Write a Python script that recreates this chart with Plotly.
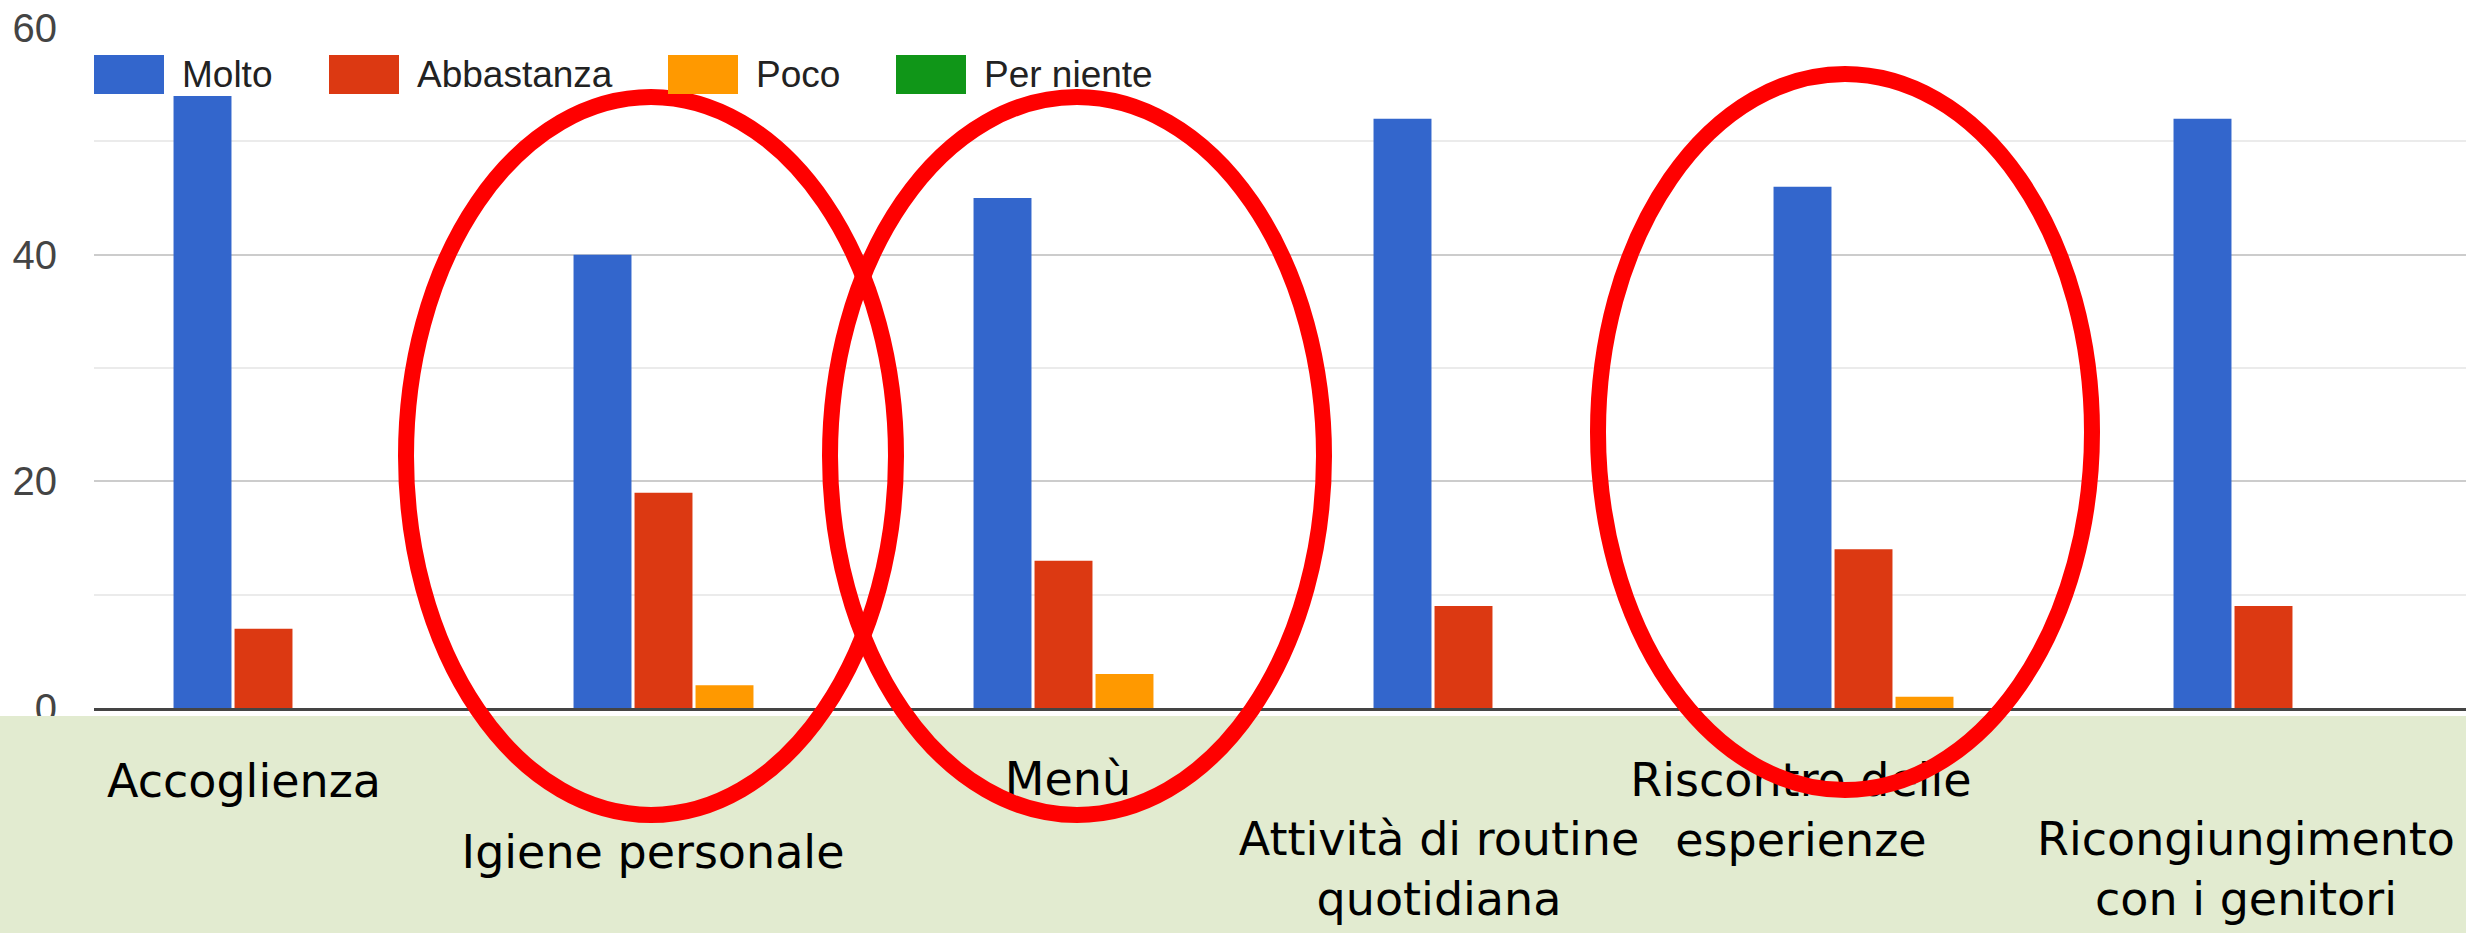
import plotly.graph_objects as go

# ---- data ----
categories = [
    "Accoglienza",
    "Igiene personale",
    "Menù",
    "Attività di routine quotidiana",
    "Riscontro delle esperienze",
    "Ricongiungimento con i genitori",
]
category_labels = [
    "Accoglienza",
    "Igiene personale",
    "Menù",
    "Attività di routine<br>quotidiana",
    "Riscontro delle<br>esperienze",
    "Ricongiungimento<br>con i genitori",
]
series_names = ["Molto", "Abbastanza", "Poco", "Per niente"]
molto = [54, 40, 45, 52, 46, 52]
abbastanza = [7, 19, 13, 9, 14, 9]
poco = [0, 2, 3, 0, 1, 0]
per_niente = [0, 0, 0, 0, 0, 0]
y_ticks = [0, 20, 40, 60]

# ---- style ----
series_colors = ["#3366CC", "#DC3912", "#FF9900", "#109618"]
W, H = 2466, 933
LEFT, TOP, AXIS_Y = 94, 28, 708


def px(x):
    """pixel x -> paper x"""
    return (x - LEFT) / (W - LEFT)


def py(y):
    """pixel y -> paper y"""
    return (AXIS_Y - y) / (AXIS_Y - TOP)


# label centres (pixels) for the captions on the green band
label_centres = [(244, 778), (653, 849), (1068, 776), (1439, 866), (1801, 807), (2246, 866)]
# legend swatch left edges (pixels)
legend_left = [94, 329, 668, 896]
# highlight ellipses (pixel boxes)
ellipses = [(406, 97, 896, 815), (830, 97, 1324, 815), (1598, 74, 2092, 790)]

fig = go.Figure()
for name, vals, color in zip(series_names, [molto, abbastanza, poco, per_niente], series_colors):
    fig.add_bar(
        x=categories,
        y=vals,
        name=name,
        marker=dict(color=color, line=dict(width=0)),
        showlegend=False,
    )

shapes = []
annotations = []

# green caption band
shapes.append(dict(
    type="rect", xref="paper", yref="paper", layer="above",
    x0=px(0), x1=px(W), y0=py(H), y1=py(716),
    line=dict(width=0), fillcolor="#E2EBD0",
))

# captions
for text, (cx, cy) in zip(category_labels, label_centres):
    shapes.append(dict(
        type="rect", xref="paper", yref="paper", layer="above",
        x0=px(cx - 240), x1=px(cx + 240), y0=py(cy + 60), y1=py(cy - 60),
        line=dict(width=0), fillcolor="rgba(0,0,0,0)",
        label=dict(text=text, textposition="middle center",
                   font=dict(family="DejaVu Sans", size=46, color="#000000")),
    ))

# red highlight ellipses
for x0, y0, x1, y1 in ellipses:
    shapes.append(dict(
        type="circle", xref="paper", yref="paper", layer="above",
        x0=px(x0), x1=px(x1), y0=py(y1), y1=py(y0),
        line=dict(color="#FF0000", width=16), fillcolor="rgba(0,0,0,0)",
    ))

# legend
for name, color, lx in zip(series_names, series_colors, legend_left):
    shapes.append(dict(
        type="rect", xref="paper", yref="paper", layer="above",
        x0=px(lx), x1=px(lx + 70), y0=py(94), y1=py(55),
        line=dict(width=0), fillcolor=color,
    ))
    annotations.append(dict(
        xref="paper", yref="paper", x=px(lx + 86), y=py(75),
        xanchor="left", yanchor="middle", showarrow=False, text=name,
        font=dict(family="Arial, Liberation Sans", size=37, color="#222222"),
    ))

fig.update_layout(
    width=W, height=H,
    margin=dict(l=LEFT, r=0, t=TOP, b=H - AXIS_Y, pad=0),
    paper_bgcolor="#FFFFFF", plot_bgcolor="#FFFFFF",
    barmode="group", bargap=0.39, bargroupgap=0.05,
    showlegend=False,
    shapes=shapes, annotations=annotations,
    xaxis=dict(
        type="category", range=[-0.5, 5.43], showticklabels=False,
        showgrid=False, zeroline=False, showline=True,
        linecolor="#444444", linewidth=3, ticks="",
    ),
    yaxis=dict(
        range=[0, 60], tickvals=y_ticks, showgrid=True,
        gridcolor="#CCCCCC", gridwidth=2, zeroline=False, showline=False,
        minor=dict(dtick=10, tick0=0, showgrid=True, gridcolor="#EBEBEB", gridwidth=2),
        tickfont=dict(family="Arial, Liberation Sans", size=40, color="#444444"),
        ticklabelstandoff=36,
    ),
)

fig.write_html("out.html", config={"displayModeBar": False})
